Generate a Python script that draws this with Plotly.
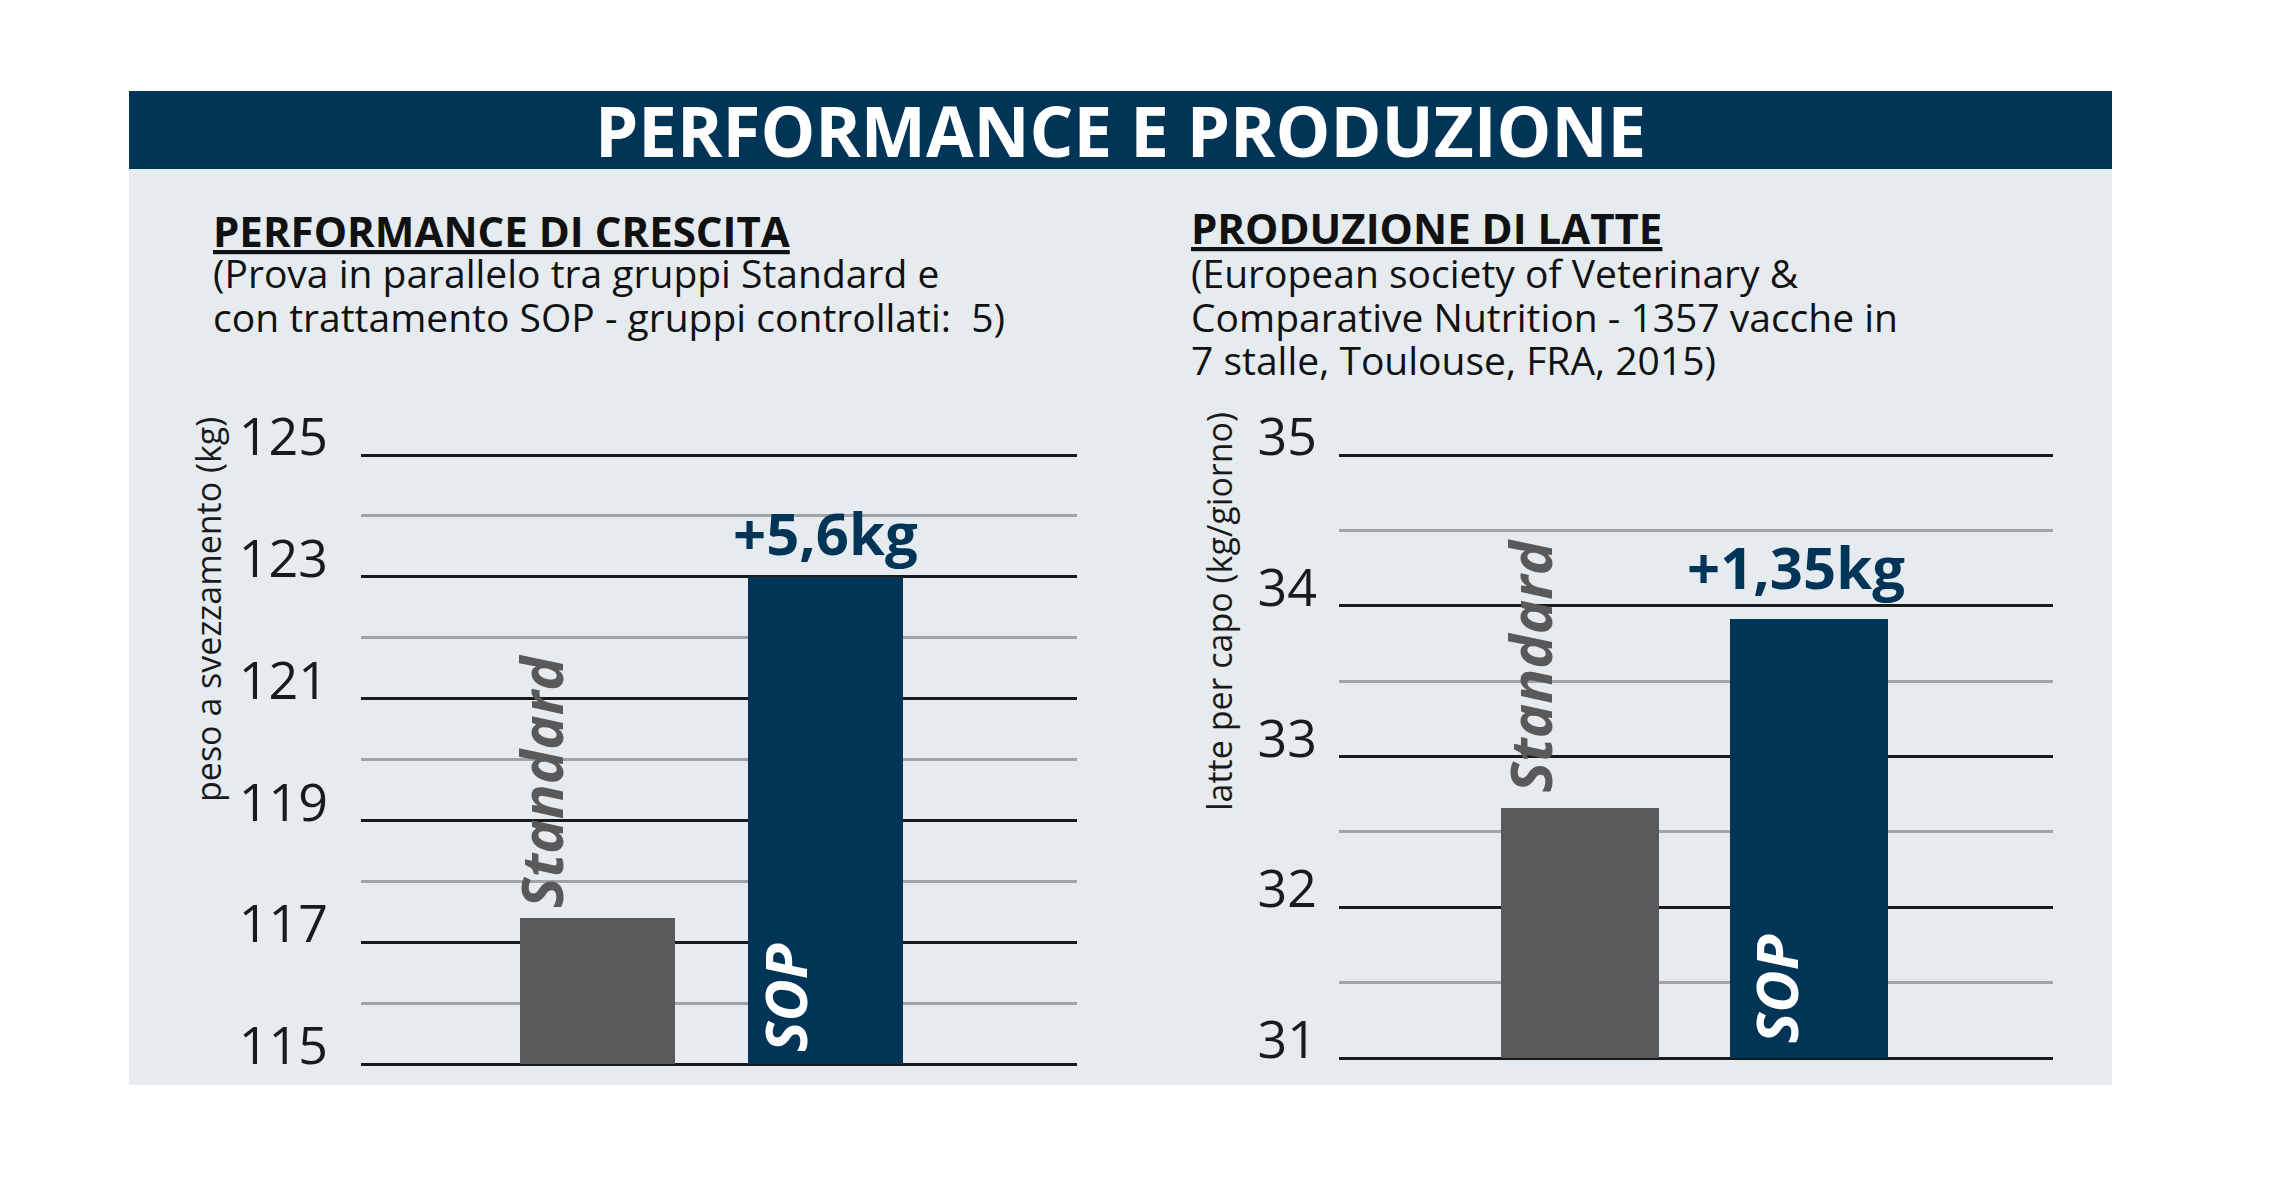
import plotly.graph_objects as go

# data
categories = ["Standard", "SOP"]
growth_kg = [117.4, 123.0]        # peso a svezzamento (kg)
milk_kg = [32.66, 33.91]          # latte per capo (kg/giorno)
growth_delta = "+5,6kg"
milk_delta = "+1,35kg"
growth_ticks = [115, 117, 119, 121, 123, 125]
milk_ticks = [31, 32, 33, 34, 35]
growth_note = ["(Prova in parallelo tra gruppi Standard e",
               "con trattamento SOP - gruppi controllati:\u00a0 5)"]
milk_note = ["(European society of Veterinary &",
             "Comparative Nutrition - 1357 vacche in",
             "7 stalle, Toulouse, FRA, 2015)"]

W, H = 2280, 1181
OFF = 8  # page body margin
NAVY = "#003558"
GREY_BAR = "#595959"
PANEL = "#e6ebef"
FONT = "Open Sans"


def px(x):
    return (x - OFF) / W


def py(y):
    return 1 - (y - OFF) / H


def yaxis_box(v0, p0, v1, p1, pad=4):
    # value v0 sits at pixel row p0, v1 at p1; pad so the edge lines show
    k = (p0 - p1) / (v1 - v0)
    return [v0 - pad / k, v1 + pad / k], [py(p0 + pad), py(p1 - pad)]


g_range, g_dom = yaxis_box(115, 1064, 125, 455)
m_range, m_dom = yaxis_box(31, 1058, 35, 455)

fig = go.Figure()

fig.add_trace(go.Bar(x=categories, y=[v - 115 for v in growth_kg], base=115,
                     width=0.68,
                     marker=dict(color=[GREY_BAR, NAVY], line=dict(width=0)),
                     xaxis="x", yaxis="y", showlegend=False))
fig.add_trace(go.Bar(x=categories, y=[v - 31 for v in milk_kg], base=31,
                     width=0.69,
                     marker=dict(color=[GREY_BAR, NAVY], line=dict(width=0)),
                     xaxis="x2", yaxis="y2", showlegend=False))

xcommon = dict(showgrid=False, showticklabels=False, zeroline=False,
               showline=False, ticks="", type="category", automargin=False)
ycommon = dict(showline=False, zeroline=False, ticks="", automargin=False,
               gridcolor="#1a1a1a", gridwidth=3,
               tickfont=dict(family=FONT, size=52, color="#1a1a1a"),
               ticklabelshift=-18)

fig.update_layout(
    width=W, height=H,
    margin=dict(l=0, r=0, t=0, b=0),
    paper_bgcolor="white",
    plot_bgcolor="rgba(0,0,0,0)",
    bargap=0,
    xaxis=dict(domain=[px(361), px(1077)], range=[-1.035, 2.10],
               anchor="y", **xcommon),
    yaxis=dict(domain=g_dom, range=g_range,
               tickvals=growth_ticks, anchor="x",
               minor=dict(dtick=1, tick0=115, showgrid=True,
                          gridcolor="#a3a3a3", gridwidth=2.5),
               ticklabelstandoff=32, **ycommon),
    xaxis2=dict(domain=[px(1339), px(2053)], range=[-1.052, 2.066],
                anchor="y2", **xcommon),
    yaxis2=dict(domain=m_dom, range=m_range,
                tickvals=milk_ticks, anchor="x2",
                minor=dict(dtick=0.5, tick0=31, showgrid=True,
                           gridcolor="#a3a3a3", gridwidth=2.5),
                ticklabelstandoff=21, **ycommon),
)

# panel background and header band
fig.add_shape(type="rect", xref="paper", yref="paper",
              x0=px(129), x1=px(2112), y0=py(1085), y1=py(169),
              fillcolor=PANEL, line=dict(width=0), layer="below")
fig.add_shape(type="rect", xref="paper", yref="paper",
              x0=px(129), x1=px(2112), y0=py(169), y1=py(91),
              fillcolor=NAVY, line=dict(width=0), layer="below")

ann = []
ann.append(dict(text="PERFORMANCE E PRODUZIONE", x=px(1120), y=py(130),
                xanchor="center", yanchor="middle",
                font=dict(family=FONT, size=69, color="white", weight="bold")))

# section titles + notes
ann.append(dict(text="PERFORMANCE DI CRESCITA", x=px(211), y=py(230),
                xanchor="left", yanchor="middle",
                font=dict(family=FONT, size=42, color="#111111",
                          weight="bold", lineposition="under")))
ann.append(dict(text="PRODUZIONE DI LATTE", x=px(1189), y=py(228),
                xanchor="left", yanchor="middle",
                font=dict(family=FONT, size=42, color="#111111",
                          weight="bold", lineposition="under")))
for xpos, lines in [(211, growth_note), (1189, milk_note)]:
    for i, line in enumerate(lines):
        ann.append(dict(text=line, x=px(xpos), y=py(272 + 44 * i),
                        xanchor="left", yanchor="middle",
                        font=dict(family=FONT, size=39, color="#111111")))

# axis titles
ann.append(dict(text="peso a svezzamento (kg)", x=px(208), y=py(610),
                xanchor="center", yanchor="middle", textangle=-90,
                font=dict(family=FONT, size=34, color="#1a1a1a")))
ann.append(dict(text="latte per capo (kg/giorno)", x=px(1219), y=py(612),
                xanchor="center", yanchor="middle", textangle=-90,
                font=dict(family=FONT, size=34, color="#1a1a1a")))

for ax, vals, delta, ymin, dshift, dx, sshift, sx, oshift, ox in [
        ("", growth_kg, growth_delta, 115, 3, 0, 8, -57, 10, -41),
        ("2", milk_kg, milk_delta, 31, 11, -13, 13, -50, 13, -33)]:
    # increase label above the SOP bar
    ann.append(dict(text=delta, xref="x" + ax, yref="y" + ax,
                    x=categories[1], y=vals[1], xanchor="center",
                    yanchor="bottom", yshift=dshift, xshift=dx,
                    font=dict(family=FONT, size=58, color=NAVY,
                              weight="bold")))
    # rotated name above the Standard bar
    ann.append(dict(text=categories[0], xref="x" + ax, yref="y" + ax,
                    x=categories[0], y=vals[0], xanchor="center",
                    yanchor="bottom", textangle=-90, yshift=sshift,
                    xshift=sx,
                    font=dict(family=FONT, size=58, color=GREY_BAR,
                              weight="bold", style="italic")))
    # rotated name inside the SOP bar
    ann.append(dict(text=categories[1], xref="x" + ax, yref="y" + ax,
                    x=categories[1], y=ymin, xanchor="center",
                    yanchor="bottom", textangle=-90, yshift=oshift,
                    xshift=ox,
                    font=dict(family=FONT, size=58, color="white",
                              weight="bold", style="italic")))

for a in ann:
    a.setdefault("xref", "paper")
    a.setdefault("yref", "paper")
    a["showarrow"] = False
fig.update_layout(annotations=ann)

fig.write_html("out.html")
